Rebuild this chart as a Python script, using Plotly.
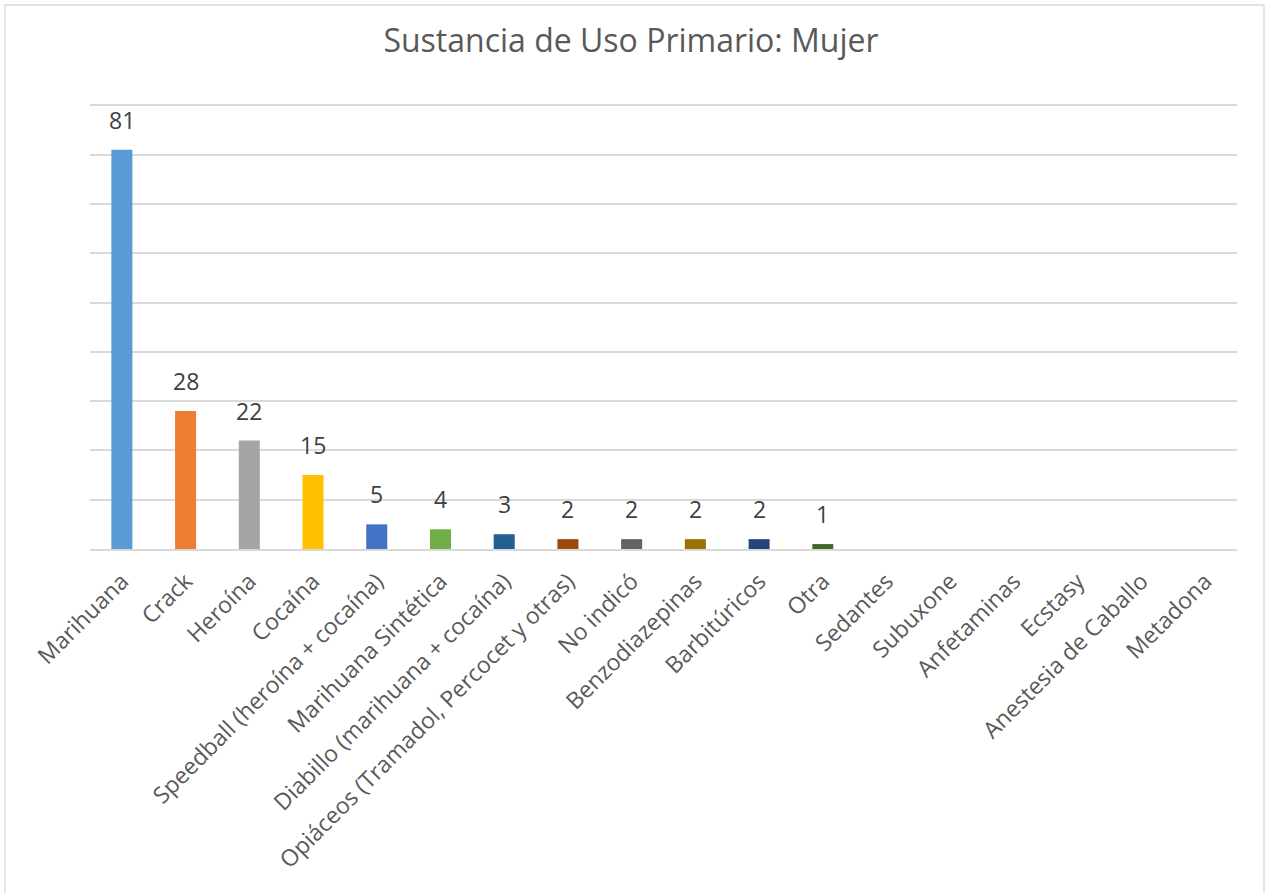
import plotly.graph_objects as go

categories = [
    "Marihuana", "Crack", "Heroína", "Cocaína",
    "Speedball (heroína + cocaína)", "Marihuana Sintética",
    "Diabillo (marihuana + cocaína)", "Opiáceos (Tramadol, Percocet y otras)",
    "No indicó", "Benzodiazepinas", "Barbitúricos", "Otra",
    "Sedantes", "Subuxone", "Anfetaminas", "Ecstasy",
    "Anestesia de Caballo", "Metadona",
]
values = [81, 28, 22, 15, 5, 4, 3, 2, 2, 2, 2, 1, 0, 0, 0, 0, 0, 0]
colors = [
    "#5B9BD5", "#ED7D31", "#A5A5A5", "#FFC000", "#4472C4", "#70AD47",
    "#255E91", "#9E480E", "#636363", "#997300", "#264478", "#43682B",
    "#698ED0", "#F1975A", "#B7B7B7", "#FFCD33", "#8CC168", "#7CAFDD",
]
title = "Sustancia de Uso Primario: Mujer"

W, H = 1266, 893
L, R, T, B = 90, 29, 104, 344
pw, ph = W - L - R, H - T - B

fig = go.Figure(go.Bar(
    x=categories,
    y=values,
    marker=dict(color=colors, line=dict(width=0)),
    width=0.33,
    hoverinfo="skip",
))

# value labels above each non-zero bar
for cat, v in zip(categories, values):
    if v > 0:
        fig.add_annotation(
            x=cat, y=v, text=str(v), showarrow=False,
            yanchor="bottom", yshift=12,
            font=dict(family="Open Sans", size=23, color="#404040"),
        )

# outer chart frame
fig.add_shape(
    type="rect", xref="paper", yref="paper",
    x0=(5 - L) / pw, x1=(1264 - L) / pw,
    y0=(H - B - 898) / ph, y1=(H - B - 5) / ph,
    line=dict(color="#D9D9D9", width=1.3), fillcolor="rgba(0,0,0,0)",
    layer="below",
)

fig.update_layout(
    width=W, height=H,
    margin=dict(l=L, r=R, t=T, b=B, autoexpand=False),
    paper_bgcolor="white", plot_bgcolor="white",
    showlegend=False,
    title=dict(
        text=title, x=(631 - L) / pw, xref="paper", xanchor="center",
        y=1 - 41 / H, yanchor="middle",
        font=dict(family="Open Sans", size=32, color="#595959"),
    ),
    xaxis=dict(
        tickangle=-45, automargin=False, showgrid=False,
        showline=True, linecolor="#D9D9D9", linewidth=1.5,
        ticks="", ticklabelstandoff=8,
        tickfont=dict(family="Open Sans", size=23, color="#595959"),
    ),
    yaxis=dict(
        range=[0, 90.3], dtick=10, showticklabels=False, automargin=False,
        showgrid=True, gridcolor="#D9D9D9", gridwidth=1.5,
        zeroline=False, showline=False, ticks="",
    ),
)

fig.write_html("out.html")
